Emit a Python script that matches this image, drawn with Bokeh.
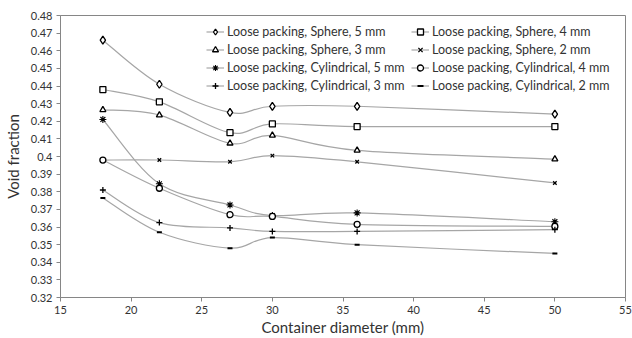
from bokeh.plotting import figure
from bokeh.models import Legend, LegendItem, FixedTicker, CustomJSTickFormatter, ColumnDataSource
from bokeh.embed import file_html
from bokeh.resources import INLINE

diameters = [18, 22, 27, 30, 36, 50]
sphere_5 = [0.466, 0.441, 0.425, 0.4285, 0.4285, 0.424]
sphere_4 = [0.438, 0.431, 0.4135, 0.4185, 0.417, 0.417]
sphere_3 = [0.4265, 0.4235, 0.4075, 0.412, 0.4035, 0.3985]
sphere_2 = [0.398, 0.398, 0.397, 0.4005, 0.397, 0.385]
cyl_5 = [0.421, 0.3845, 0.3725, 0.3665, 0.368, 0.363]
cyl_4 = [0.398, 0.382, 0.367, 0.366, 0.3615, 0.3603]
cyl_3 = [0.381, 0.3625, 0.3595, 0.3575, 0.3575, 0.3585]
cyl_2 = [0.3765, 0.357, 0.348, 0.354, 0.35, 0.345]

series_names = [
    "Loose packing, Sphere, 5 mm", "Loose packing, Sphere, 4 mm",
    "Loose packing, Sphere, 3 mm", "Loose packing, Sphere, 2 mm",
    "Loose packing, Cylindrical, 5 mm", "Loose packing, Cylindrical, 4 mm",
    "Loose packing, Cylindrical, 3 mm", "Loose packing, Cylindrical, 2 mm",
]
series_values = [sphere_5, sphere_4, sphere_3, sphere_2, cyl_5, cyl_4, cyl_3, cyl_2]
markers = ["diamond", "square", "triangle", "x", "asterisk", "circle", "cross", "dash"]
marker_sizes = [8, 6, 6, 5, 7, 6, 6, 5]
marker_widths = [1.3, 1.3, 1.3, 1.3, 1.1, 1.3, 1.3, 2.0]

x_ticks = [15, 20, 25, 30, 35, 40, 45, 50, 55]
y_ticks = [0.32, 0.33, 0.34, 0.35, 0.36, 0.37, 0.38, 0.39, 0.40,
           0.41, 0.42, 0.43, 0.44, 0.45, 0.46, 0.47, 0.48]

FONT = "Lato"
LINE_COLOR = "#a6a6a6"
AXIS_COLOR = "#868686"
TEXT_COLOR = "#333333"


def smooth_segments(xs, ys):
    """Excel-style smoothed line: cubic Bezier segments through the data points."""
    n = len(xs)
    d = dict(x0=[], y0=[], x1=[], y1=[], cx0=[], cy0=[], cx1=[], cy1=[])
    for i in range(n - 1):
        a = i - 1 if i > 0 else i
        b = i + 2 if i + 2 < n else i + 1
        d["x0"].append(xs[i]); d["y0"].append(ys[i])
        d["x1"].append(xs[i + 1]); d["y1"].append(ys[i + 1])
        d["cx0"].append(xs[i] + (xs[i + 1] - xs[a]) / 6.0)
        d["cy0"].append(ys[i] + (ys[i + 1] - ys[a]) / 6.0)
        d["cx1"].append(xs[i + 1] - (xs[b] - xs[i]) / 6.0)
        d["cy1"].append(ys[i + 1] - (ys[b] - ys[i]) / 6.0)
    return d


p = figure(width=632, height=338, output_backend="svg", toolbar_location=None,
           x_range=(15, 55), y_range=(0.32, 0.48),
           min_border_left=57, min_border_right=7, min_border_top=15, min_border_bottom=38)

p.xgrid.visible = False
p.ygrid.visible = False
p.outline_line_color = AXIS_COLOR
p.outline_line_width = 1
p.background_fill_color = "white"
p.border_fill_color = "white"

items = []
for name, vals, mk, ms, mw in zip(series_names, series_values, markers, marker_sizes, marker_widths):
    src = ColumnDataSource(smooth_segments(diameters, vals))
    r_line = p.bezier(x0="x0", y0="y0", x1="x1", y1="y1", cx0="cx0", cy0="cy0",
                      cx1="cx1", cy1="cy1", source=src, line_color=LINE_COLOR, line_width=1.2)
    r_pts = p.scatter(diameters, vals, marker=mk, size=ms, line_color="black",
                      fill_color="white", line_width=mw)
    items.append(LegendItem(label=name, renderers=[r_line, r_pts]))

for k, loc in enumerate([(146, 204), (351, 204)]):
    leg = Legend(items=items[k::2], location=loc, orientation="vertical",
                 border_line_color=None, background_fill_alpha=0,
                 padding=0, margin=0, spacing=3, glyph_width=18, glyph_height=15,
                 label_height=15, label_standoff=3,
                 label_text_font=FONT, label_text_font_size="12.5px",
                 label_text_color=TEXT_COLOR)
    p.add_layout(leg, "center")

p.xaxis.ticker = FixedTicker(ticks=x_ticks)
p.yaxis.ticker = FixedTicker(ticks=y_ticks)
p.yaxis.formatter = CustomJSTickFormatter(code="return String(Math.round(tick*100)/100);")

for ax in (p.xaxis, p.yaxis):
    ax.axis_line_color = AXIS_COLOR
    ax.major_tick_line_color = AXIS_COLOR
    ax.minor_tick_line_color = None
    ax.major_tick_in = 0
    ax.major_tick_out = 4
    ax.major_label_text_font = FONT
    ax.major_label_text_font_size = "11px"
    ax.major_label_text_color = TEXT_COLOR
    ax.axis_label_text_font = FONT
    ax.axis_label_text_font_size = "15px"
    ax.axis_label_text_font_style = "normal"
    ax.axis_label_text_color = TEXT_COLOR

p.xaxis.axis_label = "Container diameter (mm)"
p.yaxis.axis_label = "Void fraction"
p.xaxis.major_label_standoff = 4
p.xaxis.axis_label_standoff = 1
p.yaxis.major_label_standoff = 4
p.yaxis.axis_label_standoff = 6

open("out.html", "w").write(file_html(p, INLINE))
